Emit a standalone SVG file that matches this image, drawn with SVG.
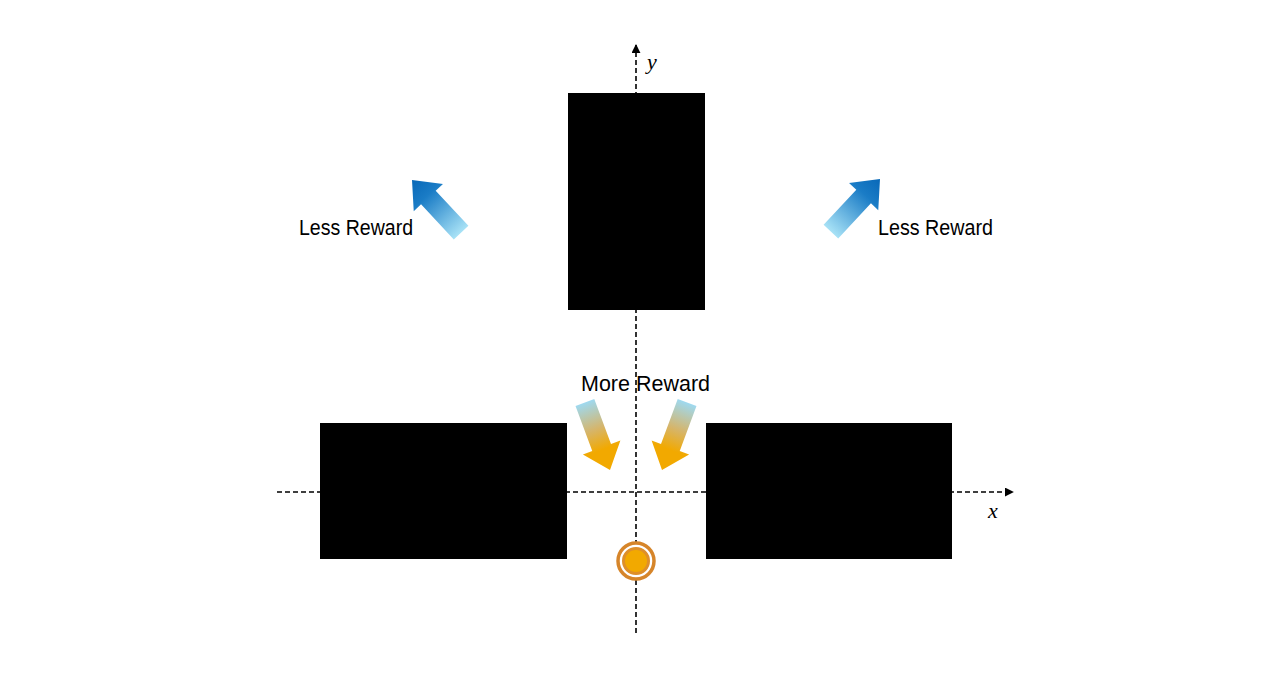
<svg xmlns="http://www.w3.org/2000/svg" width="1280" height="674" viewBox="0 0 1280 674">
<style>
.axis{stroke:#000;stroke-width:1.6;stroke-dasharray:5 3;fill:none}
.block{fill:#000}
.lbl{font-family:"Liberation Sans",Arial,sans-serif;font-size:22px;fill:#000}
.var{font-family:"Liberation Serif","Times New Roman",serif;font-style:italic;font-size:22px;fill:#000}
</style>
<defs>
<marker id="ah" viewBox="0 0 10 10" refX="9" refY="5" markerWidth="9" markerHeight="9" markerUnits="userSpaceOnUse" orient="auto">
<path d="M0,0 L10,5 L0,10 Z" fill="#000"/>
</marker>
<linearGradient id="gBlue" gradientUnits="userSpaceOnUse" x1="-72" y1="0" x2="0" y2="0">
<stop offset="0" stop-color="#A8E2F6"/>
<stop offset="0.7" stop-color="#1A7CC6"/>
<stop offset="1" stop-color="#0868B8"/>
</linearGradient>
<linearGradient id="gGold" gradientUnits="userSpaceOnUse" x1="-72" y1="0" x2="0" y2="0">
<stop offset="0" stop-color="#9ED9F0"/>
<stop offset="0.4" stop-color="#D6B56A"/>
<stop offset="0.7" stop-color="#F2A900"/>
<stop offset="1" stop-color="#F2A900"/>
</linearGradient>
<path id="arr" d="M0,0 L-24,-20 L-24,-10 L-72,-10 L-72,10 L-24,10 L-24,20 Z"/>
</defs>

<g id="connectors">
<line class="axis" x1="636" y1="633" x2="636" y2="45" marker-end="url(#ah)"/>
<line class="axis" x1="277" y1="492" x2="1013" y2="492" marker-end="url(#ah)"/>
</g>

<g id="block-top"><rect class="block" x="568" y="93" width="137" height="217"/></g>
<g id="block-left"><rect class="block" x="320" y="423" width="247" height="136"/></g>
<g id="block-right"><rect class="block" x="706" y="423" width="246" height="136"/></g>

<g id="agent">
<circle cx="636" cy="561" r="18" fill="#fff" stroke="#D6852A" stroke-width="3.5"/>
<circle cx="636" cy="561" r="12.5" fill="#F2A900" stroke="#DE8F2A" stroke-width="3"/>
</g>

<g id="arrow-ul"><use href="#arr" fill="url(#gBlue)" transform="translate(412,180) rotate(-133)"/></g>
<g id="arrow-ur"><use href="#arr" fill="url(#gBlue)" transform="translate(880,179) rotate(-47)"/></g>
<g id="arrow-ll"><use href="#arr" fill="url(#gGold)" transform="translate(610,470) rotate(69.6)"/></g>
<g id="arrow-lr"><use href="#arr" fill="url(#gGold)" transform="translate(662,470) rotate(110.4)"/></g>

<g id="label-less-left"><text class="lbl" x="299" y="235" textLength="114" lengthAdjust="spacingAndGlyphs">Less Reward</text></g>
<g id="label-less-right"><text class="lbl" x="878" y="235" textLength="115" lengthAdjust="spacingAndGlyphs">Less Reward</text></g>
<g id="label-more"><text class="lbl" x="581" y="391" textLength="129" lengthAdjust="spacingAndGlyphs">More Reward</text></g>

<g id="axis-labels">
<text class="var" x="647" y="69">y</text>
<text class="var" x="988" y="518">x</text>
</g>
</svg>
